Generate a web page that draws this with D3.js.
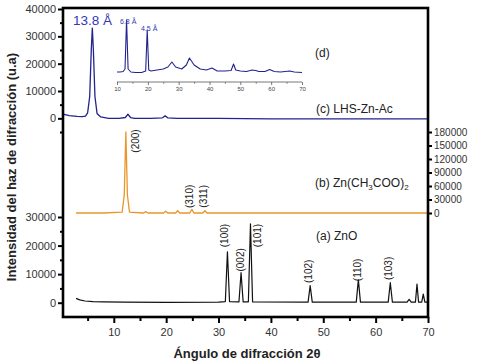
<!DOCTYPE html>
<html><head><meta charset="utf-8">
<script src="https://cdn.jsdelivr.net/npm/d3@7"></script>
<style>body{margin:0;background:#fff}svg{display:block}text{font-family:"Liberation Sans",Arial,sans-serif}</style>
</head><body>
<svg id="c" width="481" height="363"></svg>
<script>
// ---------- data ----------
// (c) LHS-Zn-Ac (blue), left axis, top panel
const lhsAngle = [0.3, 1.5, 3, 4, 4.6, 5.0, 5.4, 5.7, 5.9, 6.1, 6.4, 6.8, 7.5, 9, 11, 12.2, 12.7, 13.2, 14, 17, 19.3, 19.8, 20.3, 22, 30, 40, 50, 60, 70];
const lhsValue = [1500, 1000, 700, 600, 800, 2000, 8000, 25000, 33000, 25000, 8000, 1800, 500, 0, 0, 300, 1500, 300, 0, 0, 200, 900, 200, 0, 0, -200, -200, -200, -200];
// (d) inset, arbitrary units
const insetAngle = [10, 11, 12, 12.6, 13.1, 13.6, 14.5, 16, 18, 19.3, 19.8, 20.3, 21, 23, 25, 26.5, 27.8, 29, 31, 32.5, 33.5, 35, 37, 39, 40.8, 42.5, 45, 47, 47.8, 48.5, 50, 52, 53.8, 55, 56, 58, 59.5, 61, 63, 66, 67.5, 70];
const insetValue = [1, 1, 1.5, 4, 53, 4, 1, 0.5, 0.5, 2, 43, 3, 2, 3, 4, 6, 11, 6, 4, 8, 15, 8, 4, 3, 5, 2, 2, 2.5, 9, 3, 2, 1.5, 3, 2.5, 1.5, 1.5, 3.5, 1.5, 1, 2, 1, 0.5];
const insetTicks = [10, 20, 30, 40, 50, 60, 70];
// (b) Zn(CH3COO)2 (orange), right axis, middle panel
const acAngle = [2.8, 8, 11.6, 12.0, 12.3, 12.6, 13.0, 15.7, 16.1, 16.5, 19.5, 19.9, 20.3, 21.8, 22.2, 22.6, 24.5, 24.9, 25.3, 27.0, 27.4, 27.8, 35, 45, 55, 70];
const acValue = [0, 0, 2000, 40000, 180000, 40000, 2000, 0, 3000, 0, 0, 4000, 0, 0, 5000, 0, 0, 8000, 0, 0, 5000, 0, 0, 0, 0, 0];
// (a) ZnO (black), left axis, bottom panel
const znoAngle = [2.8, 3.5, 4.5, 6, 8, 12, 20, 30, 31.3, 31.7, 32.1, 33.9, 34.3, 34.7, 35.7, 36.1, 36.5, 47.1, 47.5, 47.9, 56.3, 56.7, 57.1, 62.4, 62.8, 63.2, 66.0, 66.4, 66.8, 67.6, 67.9, 68.2, 68.8, 69.1, 69.4, 70];
const znoValue = [1500, 1000, 600, 400, 300, 200, 100, 200, 400, 17800, 400, 300, 10500, 300, 300, 27600, 300, 200, 6000, 200, 200, 8000, 200, 200, 7000, 200, 200, 1200, 200, 200, 6500, 200, 200, 3000, 200, 200];
// hkl labels
const znoHkl = ["(100)", "(002)", "(101)", "(102)", "(110)", "(103)"];
const znoHklAngle = [31.2, 34.2, 37.6, 47.2, 56.6, 62.6];
const znoHklValue = [23500, 15000, 23500, 11000, 11500, 12000];
const acHkl = ["(200)", "(310)", "(311)"];
const acHklAngle = [14.2, 24.6, 27.3];
const acHklValue = [160000, 37000, 37000];
// axis ticks
const xTicks = [10, 20, 30, 40, 50, 60, 70];
const xMinor = [5, 15, 25, 35, 45, 55, 65];
const topTicks = [0, 10000, 20000, 30000, 40000];
const topMinor = [-5000, 5000, 15000, 25000, 35000];
const botTicks = [0, 10000, 20000, 30000];
const botMinor = [5000, 15000, 25000];
const midTicks = [0, 30000, 60000, 90000, 120000, 150000, 180000];

// ---------- drawing ----------
const svg = d3.select("#c");
const L = 63, R = 428, T = 8, B = 317;
const x = d3.scaleLinear().domain([0.3, 70]).range([L, R]);
const yTop = d3.scaleLinear().domain([-5000, 40000]).range([132, 9]);
const yMid = d3.scaleLinear().domain([0, 180000]).range([213, 132]);
const yBot = d3.scaleLinear().domain([-5000, 30000]).range([B, 217]);
const xi = d3.scaleLinear().domain([10, 70]).range([117, 302]);
const yi = d3.scaleLinear().domain([0, 53]).range([73, 20]);

function series(ax, vals, xs, ys, color, w) {
  const pts = ax.map((a, i) => [a, vals[i]]);
  svg.append("path").datum(pts)
    .attr("d", d3.line().x(d => xs(d[0])).y(d => ys(d[1])))
    .attr("fill", "none").attr("stroke", color).attr("stroke-width", w).attr("stroke-linejoin", "round");
}
series(lhsAngle, lhsValue, x, yTop, "#23238f", 1.3);
series(acAngle, acValue, x, yMid, "#e8962a", 1.3);
series(znoAngle, znoValue, x, yBot, "#111", 1.2);
series(insetAngle, insetValue, xi, yi, "#23238f", 1.1);

function styleAxis(g, fs) {
  g.select(".domain").remove();
  g.selectAll(".tick line").attr("stroke", "#000").attr("stroke-width", 2);
  g.selectAll(".tick text").attr("fill", "#333").attr("font-size", fs);
}
// bottom x axis
const gx = svg.append("g").attr("transform", `translate(0,${B})`)
  .call(d3.axisBottom(x).tickValues(xTicks).tickSize(6).tickPadding(5).tickFormat(d3.format("d")));
styleAxis(gx, 11);
const gxm = svg.append("g").attr("transform", `translate(0,${B})`)
  .call(d3.axisBottom(x).tickValues(xMinor).tickSize(4).tickFormat(""));
styleAxis(gxm, 11);
// left axes
[[yTop, topTicks, topMinor], [yBot, botTicks, botMinor]].forEach(([s, maj, mn]) => {
  const g = svg.append("g").attr("transform", `translate(${L},0)`)
    .call(d3.axisLeft(s).tickValues(maj).tickSize(5).tickPadding(2).tickFormat(d3.format("d")));
  styleAxis(g, 11);
  const gm = svg.append("g").attr("transform", `translate(${L},0)`)
    .call(d3.axisLeft(s).tickValues(mn).tickSize(3).tickFormat(""));
  styleAxis(gm, 11);
});
// right axis
const gr = svg.append("g").attr("transform", `translate(${R},0)`)
  .call(d3.axisRight(yMid).tickValues(midTicks).tickSize(4).tickPadding(2).tickFormat(d3.format("d")));
styleAxis(gr, 10);
// inset axis
svg.append("line").attr("x1", xi(10)).attr("x2", xi(70)).attr("y1", 82).attr("y2", 82).attr("stroke", "#555").attr("stroke-width", 0.8);
const gi = svg.append("g").attr("transform", "translate(0,82)")
  .call(d3.axisBottom(xi).tickValues(insetTicks).tickSize(3).tickPadding(2).tickFormat(d3.format("d")));
gi.select(".domain").remove();
gi.selectAll(".tick line").attr("stroke", "#555").attr("stroke-width", 0.8);
gi.selectAll(".tick text").attr("fill", "#444").attr("font-size", 6);
const gim = svg.append("g").attr("transform", "translate(0,82)")
  .call(d3.axisBottom(xi).tickValues([15, 25, 35, 45, 55, 65]).tickSize(2).tickFormat(""));
gim.select(".domain").remove();
gim.selectAll(".tick line").attr("stroke", "#555").attr("stroke-width", 0.6);

// frame
svg.append("rect").attr("x", L).attr("y", T).attr("width", R - L).attr("height", B - T)
  .attr("fill", "none").attr("stroke", "#000").attr("stroke-width", 2.6);

// hkl labels (rotated)
function hkl(labels, ang, val, ys) {
  labels.forEach((t, i) => {
    svg.append("text").attr("transform", `translate(${x(ang[i]) + 3},${ys(val[i])}) rotate(-90)`)
      .attr("text-anchor", "middle").attr("font-size", 10).attr("fill", "#222").text(t);
  });
}
hkl(znoHkl, znoHklAngle, znoHklValue, yBot);
hkl(acHkl, acHklAngle, acHklValue, yMid);

// annotations
svg.append("text").attr("x", 73).attr("y", 25).attr("font-size", 13.5).attr("fill", "#3636b0").text("13.8 Å");
svg.append("text").attr("x", 120).attr("y", 24).attr("font-size", 7).attr("fill", "#3636b0").text("6.8 Å");
svg.append("text").attr("x", 141).attr("y", 31).attr("font-size", 7).attr("fill", "#3636b0").text("4.5 Å");
svg.append("text").attr("x", 315).attr("y", 57).attr("font-size", 12).attr("fill", "#222").text("(d)");
svg.append("text").attr("x", 316).attr("y", 113).attr("font-size", 12).attr("fill", "#222").text("(c) LHS-Zn-Ac");
const tb = svg.append("text").attr("x", 315).attr("y", 187).attr("font-size", 12).attr("fill", "#222");
tb.append("tspan").text("(b) Zn(CH");
tb.append("tspan").attr("dy", 3).attr("font-size", 8).text("3");
tb.append("tspan").attr("dy", -3).text("COO)");
tb.append("tspan").attr("dy", 3).attr("font-size", 8).text("2");
svg.append("text").attr("x", 316).attr("y", 240).attr("font-size", 12).attr("fill", "#222").text("(a) ZnO");

// axis titles
svg.append("text").attr("transform", "translate(16,167) rotate(-90)").attr("text-anchor", "middle")
  .attr("font-size", 13).attr("font-weight", "bold").attr("fill", "#222").text("Intensidad del haz de difracción (u.a)");
svg.append("text").attr("x", 247).attr("y", 358).attr("text-anchor", "middle")
  .attr("font-size", 13).attr("font-weight", "bold").attr("fill", "#222").text("Ángulo de difracción 2θ");
</script>
</body></html>
